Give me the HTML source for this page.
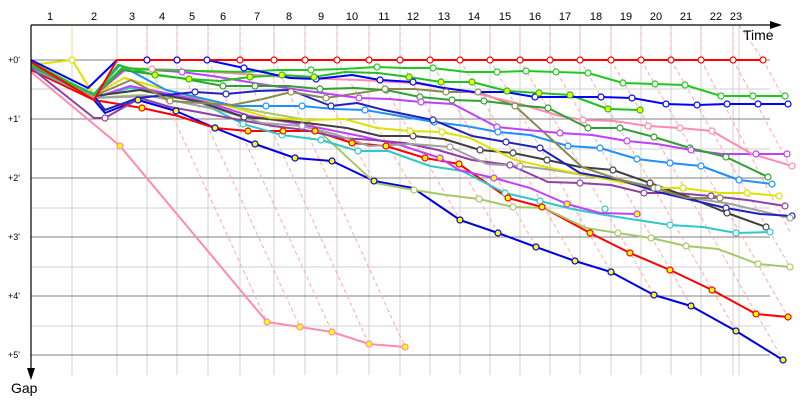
<!DOCTYPE html>
<html><head><meta charset="utf-8"><style>
body{margin:0;background:#fff}
svg{display:block;font-family:"Liberation Sans",sans-serif}
</style></head><body>
<svg width="800" height="400" viewBox="0 0 800 400" xmlns="http://www.w3.org/2000/svg">
<g stroke="#d0d0d0" stroke-width="1">
<line x1="72" y1="25" x2="72" y2="375"/><line x1="117" y1="25" x2="117" y2="375"/><line x1="147" y1="25" x2="147" y2="375"/><line x1="177" y1="25" x2="177" y2="375"/><line x1="208" y1="25" x2="208" y2="375"/><line x1="240" y1="25" x2="240" y2="375"/><line x1="274" y1="25" x2="274" y2="375"/><line x1="305" y1="25" x2="305" y2="375"/><line x1="337" y1="25" x2="337" y2="375"/><line x1="369" y1="25" x2="369" y2="375"/><line x1="400" y1="25" x2="400" y2="375"/><line x1="430" y1="25" x2="430" y2="375"/><line x1="460" y1="25" x2="460" y2="375"/><line x1="490" y1="25" x2="490" y2="375"/><line x1="520" y1="25" x2="520" y2="375"/><line x1="550" y1="25" x2="550" y2="375"/><line x1="580" y1="25" x2="580" y2="375"/><line x1="611" y1="25" x2="611" y2="375"/><line x1="641" y1="25" x2="641" y2="375"/><line x1="671" y1="25" x2="671" y2="375"/><line x1="701" y1="25" x2="701" y2="375"/><line x1="733" y1="25" x2="733" y2="375"/><line x1="739" y1="25" x2="739" y2="375"/>
<line x1="31" y1="89" x2="770" y2="89"/><line x1="31" y1="149" x2="770" y2="149"/><line x1="31" y1="208" x2="770" y2="208"/><line x1="31" y1="267" x2="770" y2="267"/><line x1="31" y1="326" x2="770" y2="326"/>
</g>
<g stroke="#808080" stroke-width="1">
<line x1="31" y1="60" x2="770" y2="60"/><line x1="31" y1="119" x2="770" y2="119"/><line x1="31" y1="178" x2="770" y2="178"/><line x1="31" y1="237" x2="770" y2="237"/><line x1="31" y1="296" x2="770" y2="296"/><line x1="31" y1="355" x2="770" y2="355"/>
</g>
<g fill="none" stroke="#ffaaaa" stroke-width="1" stroke-dasharray="4,3">
<polyline points="147,25 147,60 267,322"/><polyline points="177,25 177,60 300,327"/><polyline points="208,25 208,60 332,332"/><polyline points="240,25 240,60 369,344"/><polyline points="274,25 274,60 405,347"/><polyline points="305,25 305,60 374,181"/><polyline points="337,25 337,60 413,188"/><polyline points="369,25 369,60 460,220"/><polyline points="400,25 400,60 498,233"/><polyline points="430,25 430,60 536,247"/><polyline points="460,25 460,60 575,261"/><polyline points="490,25 490,60 611,272"/><polyline points="520,25 520,60 654,295"/><polyline points="550,25 550,60 691,306"/><polyline points="580,25 580,60 736,331"/><polyline points="611,25 611,60 783,360"/><polyline points="641,25 641,60 788,317"/><polyline points="671,25 671,60 790,267"/><polyline points="701,25 701,60 790,232"/><polyline points="733,25 733,60 790,166"/><polyline points="739,25 763,60 790,110"/>
</g>
<polyline points="72,25 72,60 120,146" fill="none" stroke="#eeee88" stroke-dasharray="4,3"/>
<g fill="none" stroke-width="2" stroke-linejoin="round">
<polyline stroke="#ff8cb0" points="31,72 120,146 267,322 300,327 332,332 369,344 405,347"/>
<polyline stroke="#0000e0" points="31,68 94,100 105,113 138,100 176,111 215,128 255,144 295,158 332,161 374,181 413,188 460,220 498,233 536,247 575,261 611,272 654,295 691,306 736,331 783,360"/>
<polyline stroke="#ff0000" points="31,70 94,100 142,108 178,116 215,128 248,131 283,131 315,131 352,143 386,146 425,158 459,164 508,198 542,207 590,233 630,253 670,270 712,290 756,314 788,317"/>
<polyline stroke="#a8c868" points="31,68 94,98 140,95 200,100 262,112 307,120 375,183 414,190 446,195 479,199 513,207 544,208 586,228 618,233 651,238 686,246 718,249 758,264 790,267"/>
<polyline stroke="#30c8c8" points="31,68 94,98 130,88 200,102 243,124 282,135 321,140 358,151 388,151 430,166 462,171 505,193 540,201 572,209 605,215 637,220 670,225 703,227 736,233 770,232"/>
<polyline stroke="#c040ff" points="31,66 94,98 130,86 200,100 250,116 300,124 360,136 400,145 440,158 459,170 494,178 530,188 567,204 600,213 637,214"/>
<polyline stroke="#9040a0" points="31,68 94,118 105,118 140,98 170,107 198,112 240,120 273,126 305,130 341,138 373,140 405,143 438,150 472,160 510,165 548,182 580,183 611,185 644,193 675,193 711,196 747,200 785,206"/>
<polyline stroke="#a0a0a0" points="31,66 94,98 150,96 220,110 262,123 302,126 334,134 369,146 412,144 450,147 487,164 520,166 553,170 590,176 622,180 658,188 692,198 731,204 790,218"/>
<polyline stroke="#404040" points="31,66 94,96 140,90 200,102 244,117 280,120 315,124 347,128 380,136 413,136 444,139 480,150 513,153 547,160 580,167 613,170 650,183 688,197 727,213 766,227"/>
<polyline stroke="#e0e000" points="31,65 72,60 94,95 124,78 160,88 198,98 232,107 270,118 310,120 344,119 377,128 410,131 442,132 470,138 515,160 560,170 610,180 653,188 683,188 720,193 747,193 779,196"/>
<polyline stroke="#1e90ff" points="31,64 94,94 120,65 166,90 235,106 266,106 302,106 334,109 365,110 400,116 434,122 466,126 498,132 530,135 568,146 600,148 637,159 670,163 701,166 739,180 772,184"/>
<polyline stroke="#2020c0" points="31,66 94,96 105,110 138,98 195,92 226,94 257,91 290,90 331,106 357,103 384,110 433,120 472,136 506,142 540,148 580,173 620,180 658,192 692,200 726,208 760,214 792,216"/>
<polyline stroke="#8a8a50" points="31,66 94,96 131,80 170,101 232,105 263,99 291,92 326,98 359,93 385,89 414,89 446,92 478,92 515,106 582,167 620,180 654,188 687,198 720,198"/>
<polyline stroke="#c040ff" points="31,64 94,96 127,68 152,70 182,72 212,76 260,84 300,90 359,98 389,99 421,102 453,104 497,127 527,130 560,133 592,135 627,141 657,144 691,150 722,154 756,154 787,154"/>
<polyline stroke="#ff8cb0" points="31,64 94,96 122,68 152,69 182,70 212,72 300,78 360,80 412,83 470,92 520,104 560,116 583,120 614,121 648,126 680,128 712,131 752,154 792,166"/>
<polyline stroke="#30a030" points="31,65 94,95 122,70 180,78 223,86 255,86 288,86 320,89 354,88 386,90 420,97 452,100 484,101 516,105 548,108 588,128 620,128 654,137 690,148 726,157 768,177"/>
<polyline stroke="#20c020" points="31,65 94,95 118,65 155,75 189,79 220,81 250,77 282,75 314,77 345,72 378,73 409,77 441,82 472,82 507,91 539,93 570,95 608,109 640,110"/>
<polyline stroke="#20c820" points="31,62 94,95 122,68 157,70 200,71 243,72 278,70 311,70 343,69 377,67 403,68 433,68 466,72 497,72 526,71 556,72 588,73 623,83 655,84 685,85 721,96 753,96 785,96"/>
<polyline stroke="#0000ff" points="31,60 88,88 117,60 147,60 177,60 207,60 244,68 290,78 316,79 352,75 380,80 413,82 444,88 474,92 505,92 535,97 565,97 601,97 632,98 666,104 697,105 727,104 758,104 788,104"/>
<polyline stroke="#ff0000" points="31,62 94,100 117,60 147,60 177,60 208,60 240,60 274,60 305,60 337,60 369,60 400,60 430,60 460,60 490,60 520,60 550,60 580,60 611,60 641,60 671,60 701,60 733,60 763,60"/>
</g>
<g stroke-width="1.2">
<g fill="#fff" stroke="#ff0000"><circle cx="147" cy="60" r="3"/><circle cx="177" cy="60" r="3"/><circle cx="240" cy="60" r="3"/><circle cx="274" cy="60" r="3"/><circle cx="305" cy="60" r="3"/><circle cx="337" cy="60" r="3"/><circle cx="369" cy="60" r="3"/><circle cx="400" cy="60" r="3"/><circle cx="430" cy="60" r="3"/><circle cx="460" cy="60" r="3"/><circle cx="490" cy="60" r="3"/><circle cx="520" cy="60" r="3"/><circle cx="550" cy="60" r="3"/><circle cx="580" cy="60" r="3"/><circle cx="611" cy="60" r="3"/><circle cx="641" cy="60" r="3"/><circle cx="671" cy="60" r="3"/><circle cx="701" cy="60" r="3"/><circle cx="733" cy="60" r="3"/><circle cx="763" cy="60" r="3"/></g>
<g fill="#fff" stroke="#0000ff"><circle cx="147" cy="60" r="3"/><circle cx="177" cy="60" r="3"/><circle cx="207" cy="60" r="3"/><circle cx="244" cy="68" r="3"/><circle cx="316" cy="79" r="3"/><circle cx="380" cy="80" r="3"/><circle cx="413" cy="82" r="3"/><circle cx="535" cy="97" r="3"/><circle cx="601" cy="97" r="3"/><circle cx="632" cy="98" r="3"/><circle cx="666" cy="104" r="3"/><circle cx="697" cy="105" r="3"/><circle cx="727" cy="104" r="3"/><circle cx="758" cy="104" r="3"/><circle cx="788" cy="104" r="3"/></g>
<g fill="#fff" stroke="#20c820"><circle cx="311" cy="70" r="3"/><circle cx="377" cy="67" r="3"/><circle cx="433" cy="68" r="3"/><circle cx="497" cy="72" r="3"/><circle cx="526" cy="71" r="3"/><circle cx="556" cy="72" r="3"/><circle cx="588" cy="73" r="3"/><circle cx="623" cy="83" r="3"/><circle cx="655" cy="84" r="3"/><circle cx="685" cy="85" r="3"/><circle cx="721" cy="96" r="3"/><circle cx="753" cy="96" r="3"/><circle cx="785" cy="96" r="3"/></g>
<g fill="#ffff00" stroke="#20c020"><circle cx="155" cy="75" r="3"/><circle cx="189" cy="79" r="3"/><circle cx="250" cy="77" r="3"/><circle cx="282" cy="75" r="3"/><circle cx="314" cy="77" r="3"/><circle cx="409" cy="77" r="3"/><circle cx="441" cy="82" r="3"/><circle cx="472" cy="82" r="3"/><circle cx="507" cy="91" r="3"/><circle cx="539" cy="93" r="3"/><circle cx="570" cy="95" r="3"/><circle cx="608" cy="109" r="3"/><circle cx="640" cy="110" r="3"/></g>
<g fill="#fff" stroke="#30a030"><circle cx="223" cy="86" r="3"/><circle cx="255" cy="86" r="3"/><circle cx="320" cy="89" r="3"/><circle cx="386" cy="90" r="3"/><circle cx="420" cy="97" r="3"/><circle cx="452" cy="100" r="3"/><circle cx="484" cy="101" r="3"/><circle cx="548" cy="108" r="3"/><circle cx="588" cy="128" r="3"/><circle cx="620" cy="128" r="3"/><circle cx="654" cy="137" r="3"/><circle cx="690" cy="148" r="3"/><circle cx="726" cy="157" r="3"/><circle cx="768" cy="177" r="3"/></g>
<g fill="#fff" stroke="#ff8cb0"><circle cx="152" cy="69" r="3"/><circle cx="583" cy="120" r="3"/><circle cx="648" cy="126" r="3"/><circle cx="680" cy="128" r="3"/><circle cx="712" cy="131" r="3"/><circle cx="792" cy="166" r="3"/></g>
<g fill="#fff" stroke="#c040ff"><circle cx="182" cy="72" r="3"/><circle cx="359" cy="98" r="3"/><circle cx="421" cy="102" r="3"/><circle cx="497" cy="127" r="3"/><circle cx="560" cy="133" r="3"/><circle cx="627" cy="141" r="3"/><circle cx="691" cy="150" r="3"/><circle cx="756" cy="154" r="3"/><circle cx="787" cy="154" r="3"/></g>
<g fill="#fff" stroke="#1e90ff"><circle cx="266" cy="106" r="3"/><circle cx="302" cy="106" r="3"/><circle cx="365" cy="110" r="3"/><circle cx="434" cy="122" r="3"/><circle cx="498" cy="132" r="3"/><circle cx="568" cy="146" r="3"/><circle cx="600" cy="148" r="3"/><circle cx="637" cy="159" r="3"/><circle cx="670" cy="163" r="3"/><circle cx="701" cy="166" r="3"/><circle cx="739" cy="180" r="3"/><circle cx="772" cy="184" r="3"/></g>
<g fill="#fff" stroke="#2020c0"><circle cx="195" cy="92" r="3"/><circle cx="226" cy="94" r="3"/><circle cx="331" cy="106" r="3"/><circle cx="433" cy="120" r="3"/><circle cx="506" cy="142" r="3"/><circle cx="540" cy="148" r="3"/><circle cx="726" cy="208" r="3"/><circle cx="792" cy="216" r="3"/></g>
<g fill="#fff" stroke="#404040"><circle cx="244" cy="117" r="3"/><circle cx="413" cy="136" r="3"/><circle cx="480" cy="150" r="3"/><circle cx="513" cy="153" r="3"/><circle cx="547" cy="160" r="3"/><circle cx="613" cy="170" r="3"/><circle cx="650" cy="183" r="3"/><circle cx="727" cy="213" r="3"/><circle cx="766" cy="227" r="3"/></g>
<g fill="#fff" stroke="#e0e000"><circle cx="72" cy="60" r="3"/><circle cx="410" cy="131" r="3"/><circle cx="442" cy="132" r="3"/><circle cx="683" cy="188" r="3"/><circle cx="747" cy="193" r="3"/><circle cx="779" cy="196" r="3"/></g>
<g fill="#fff" stroke="#8a8a50"><circle cx="170" cy="101" r="3"/><circle cx="291" cy="92" r="3"/><circle cx="326" cy="98" r="3"/><circle cx="385" cy="89" r="3"/><circle cx="446" cy="92" r="3"/><circle cx="478" cy="92" r="3"/><circle cx="515" cy="106" r="3"/><circle cx="654" cy="188" r="3"/><circle cx="720" cy="198" r="3"/></g>
<g fill="#fff" stroke="#a0a0a0"><circle cx="302" cy="126" r="3"/><circle cx="450" cy="147" r="3"/><circle cx="520" cy="166" r="3"/><circle cx="658" cy="188" r="3"/><circle cx="790" cy="218" r="3"/></g>
<g fill="#fff" stroke="#9040a0"><circle cx="105" cy="118" r="3"/><circle cx="510" cy="165" r="3"/><circle cx="580" cy="183" r="3"/><circle cx="644" cy="193" r="3"/><circle cx="711" cy="196" r="3"/><circle cx="785" cy="206" r="3"/></g>
<g fill="#fff" stroke="#30c8c8"><circle cx="243" cy="124" r="3"/><circle cx="282" cy="135" r="3"/><circle cx="321" cy="140" r="3"/><circle cx="358" cy="151" r="3"/><circle cx="505" cy="193" r="3"/><circle cx="540" cy="201" r="3"/><circle cx="605" cy="209" r="3"/><circle cx="670" cy="225" r="3"/><circle cx="736" cy="233" r="3"/><circle cx="770" cy="232" r="3"/></g>
<g fill="#fff" stroke="#a8c868"><circle cx="414" cy="190" r="3"/><circle cx="479" cy="199" r="3"/><circle cx="513" cy="207" r="3"/><circle cx="618" cy="233" r="3"/><circle cx="651" cy="238" r="3"/><circle cx="686" cy="246" r="3"/><circle cx="758" cy="264" r="3"/><circle cx="790" cy="267" r="3"/></g>
<g fill="#ffff00" stroke="#c040ff"><circle cx="440" cy="158" r="3"/><circle cx="494" cy="178" r="3"/><circle cx="567" cy="204" r="3"/><circle cx="637" cy="214" r="3"/></g>
<g fill="#ffff00" stroke="#ff0000"><circle cx="142" cy="108" r="3"/><circle cx="215" cy="128" r="3"/><circle cx="248" cy="131" r="3"/><circle cx="283" cy="131" r="3"/><circle cx="315" cy="131" r="3"/><circle cx="352" cy="143" r="3"/><circle cx="386" cy="146" r="3"/><circle cx="425" cy="158" r="3"/><circle cx="459" cy="164" r="3"/><circle cx="508" cy="198" r="3"/><circle cx="542" cy="207" r="3"/><circle cx="590" cy="233" r="3"/><circle cx="630" cy="253" r="3"/><circle cx="670" cy="270" r="3"/><circle cx="712" cy="290" r="3"/><circle cx="756" cy="314" r="3"/><circle cx="788" cy="317" r="3"/></g>
<g fill="#ffff00" stroke="#0000e0"><circle cx="138" cy="100" r="3"/><circle cx="176" cy="111" r="3"/><circle cx="215" cy="128" r="3"/><circle cx="255" cy="144" r="3"/><circle cx="295" cy="158" r="3"/><circle cx="332" cy="161" r="3"/><circle cx="374" cy="181" r="3"/><circle cx="460" cy="220" r="3"/><circle cx="498" cy="233" r="3"/><circle cx="536" cy="247" r="3"/><circle cx="575" cy="261" r="3"/><circle cx="611" cy="272" r="3"/><circle cx="654" cy="295" r="3"/><circle cx="691" cy="306" r="3"/><circle cx="736" cy="331" r="3"/><circle cx="783" cy="360" r="3"/></g>
<g fill="#ffff00" stroke="#ff8cb0"><circle cx="120" cy="146" r="3"/><circle cx="267" cy="322" r="3"/><circle cx="300" cy="327" r="3"/><circle cx="332" cy="332" r="3"/><circle cx="369" cy="344" r="3"/><circle cx="405" cy="347" r="3"/></g>
</g>
<line x1="31" y1="25" x2="772" y2="25" stroke="#000" stroke-width="1.2"/>
<polygon points="782,25 770,21 770,29" fill="#000"/>
<line x1="31" y1="25" x2="31" y2="370" stroke="#000" stroke-width="1.2"/>
<polygon points="31,380 27,368 35,368" fill="#000"/>
<g font-size="11" fill="#000" text-anchor="middle">
<text x="50" y="20">1</text><text x="94" y="20">2</text><text x="132" y="20">3</text><text x="162" y="20">4</text><text x="192" y="20">5</text><text x="223" y="20">6</text><text x="257" y="20">7</text><text x="289" y="20">8</text><text x="321" y="20">9</text><text x="352" y="20">10</text><text x="384" y="20">11</text><text x="413" y="20">12</text><text x="444" y="20">13</text><text x="474" y="20">14</text><text x="505" y="20">15</text><text x="535" y="20">16</text><text x="565" y="20">17</text><text x="596" y="20">18</text><text x="626" y="20">19</text><text x="656" y="20">20</text><text x="686" y="20">21</text><text x="716" y="20">22</text><text x="736" y="20">23</text>
</g>
<g font-size="9" fill="#000">
<text x="8" y="63">+0'</text><text x="8" y="122">+1'</text><text x="8" y="181">+2'</text><text x="8" y="240">+3'</text><text x="8" y="299">+4'</text><text x="8" y="358">+5'</text>
</g>
<text x="743" y="40" font-size="14">Time</text>
<text x="11" y="393" font-size="14">Gap</text>
</svg>
</body></html>
